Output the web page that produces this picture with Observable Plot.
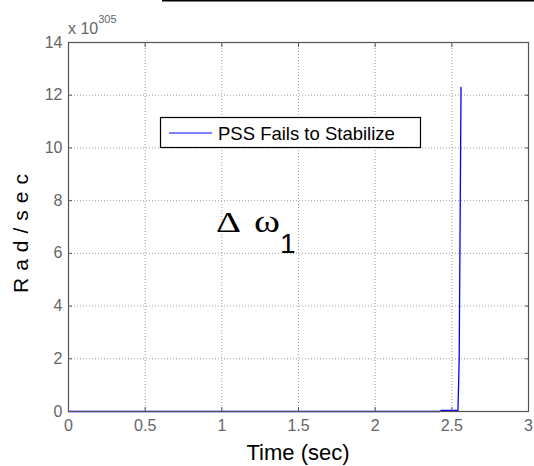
<!DOCTYPE html>
<html>
<head>
<meta charset="utf-8">
<script src="https://cdn.jsdelivr.net/npm/d3@7"></script>
<script src="https://cdn.jsdelivr.net/npm/@observablehq/plot@0.6"></script>
<style>
  html, body { margin: 0; padding: 0; background: #fff; }
  #chart svg { display: block; font-family: "Liberation Sans", Arial, sans-serif; }
</style>
</head>
<body>
<div id="chart"></div>
<script>
// Time (sec) and Δω1 (×10^305 rad/sec)
const timeSec = [0, 2.42, 2.43, 2.54, 2.548, 2.56];
const dOmega1 = [0, 0, 0.04, 0.04, 2.0, 12.3];
const xTicks = [0, 0.5, 1, 1.5, 2, 2.5, 3];
const yTicks = [0, 2, 4, 6, 8, 10, 12, 14];
const seriesName = "PSS Fails to Stabilize";
const xLabel = "Time (sec)";
const yLabel = "Rad/sec";
const exponent = "305";

const data = timeSec.map((t, i) => ({t, w: dOmega1[i]}));

const W = 534, H = 466;
const tickColor = "#666";
const plot = Plot.plot({
  width: W, height: H,
  marginLeft: 68, marginRight: 6, marginTop: 42, marginBottom: 55,
  x: {domain: [0, 3]},
  y: {domain: [0, 14]},
  marks: [
    Plot.gridX(xTicks, {stroke: "#888", strokeOpacity: 0.8, strokeDasharray: "1,2"}),
    Plot.gridY(yTicks, {stroke: "#888", strokeOpacity: 0.8, strokeDasharray: "1,2"}),
    Plot.line(data, {x: "t", y: "w", stroke: "#0000ff", strokeWidth: 1.3}),
    Plot.frame({stroke: "#555", strokeWidth: 1.2}),
    Plot.axisX(xTicks, {anchor: "bottom", tickSize: -4, tickPadding: 12, tickFormat: d => String(d), label: null, fontSize: 16, color: tickColor, stroke: "#555"}),
    Plot.axisY(yTicks, {anchor: "left", tickSize: -4, tickPadding: 10, tickFormat: d => String(d), label: null, fontSize: 16, color: tickColor, stroke: "#555"}),
    Plot.axisX(xTicks, {anchor: "top", tickSize: -4, tickFormat: () => "", label: null, stroke: "#555"}),
    Plot.axisY(yTicks, {anchor: "right", tickSize: -4, tickFormat: () => "", label: null, stroke: "#555"})
  ]
});
document.getElementById("chart").appendChild(plot);

const svg = d3.select(plot);
const font = "'Liberation Sans', Arial, sans-serif";
const serif = "'Liberation Serif', 'Times New Roman', serif";

// top edge line
svg.append("line").attr("x1", 162).attr("x2", W).attr("y1", 0.75).attr("y2", 0.75)
  .attr("stroke", "#000").attr("stroke-width", 1.5);

// exponent label
const ex = svg.append("text").attr("x", 68).attr("y", 34).attr("text-anchor", "start").attr("fill", tickColor)
  .attr("font-family", font).attr("font-size", 16);
ex.append("tspan").text("x 10");
ex.append("tspan").attr("dy", -11).attr("font-size", 11).text(exponent);

// x label
svg.append("text").attr("x", 298).attr("y", 460).attr("text-anchor", "middle")
  .attr("font-family", font).attr("font-size", 22).attr("fill", "#000").text(xLabel);

// y label
svg.append("text").attr("transform", "translate(28,230) rotate(-90)").attr("text-anchor", "middle")
  .attr("font-family", font).attr("font-size", 21).attr("letter-spacing", 7).attr("fill", "#000").text(yLabel);

// legend
const lg = svg.append("g");
lg.append("rect").attr("x", 160.5).attr("y", 117.5).attr("width", 260).attr("height", 30)
  .attr("fill", "#fff").attr("stroke", "#000").attr("stroke-width", 1.2);
lg.append("line").attr("x1", 169).attr("x2", 212).attr("y1", 133).attr("y2", 133)
  .attr("stroke", "#0000ff").attr("stroke-width", 1.2);
lg.append("text").attr("x", 218).attr("y", 140).attr("text-anchor", "start").attr("font-family", font).attr("font-size", 18.5)
  .attr("fill", "#000").text(seriesName);

// Δω1 annotation
const an = svg.append("text").attr("y", 232).attr("text-anchor", "start").attr("fill", "#000");
an.append("tspan").attr("x", 216).attr("font-family", serif).attr("font-size", 29)
  .attr("textLength", 25).attr("lengthAdjust", "spacingAndGlyphs").text("Δ");
an.append("tspan").attr("x", 254).attr("font-family", serif).attr("font-size", 31)
  .attr("textLength", 26).attr("lengthAdjust", "spacingAndGlyphs").text("ω");
an.append("tspan").attr("x", 280).attr("y", 253).attr("font-family", font).attr("font-size", 28).text("1");
</script>
</body>
</html>
